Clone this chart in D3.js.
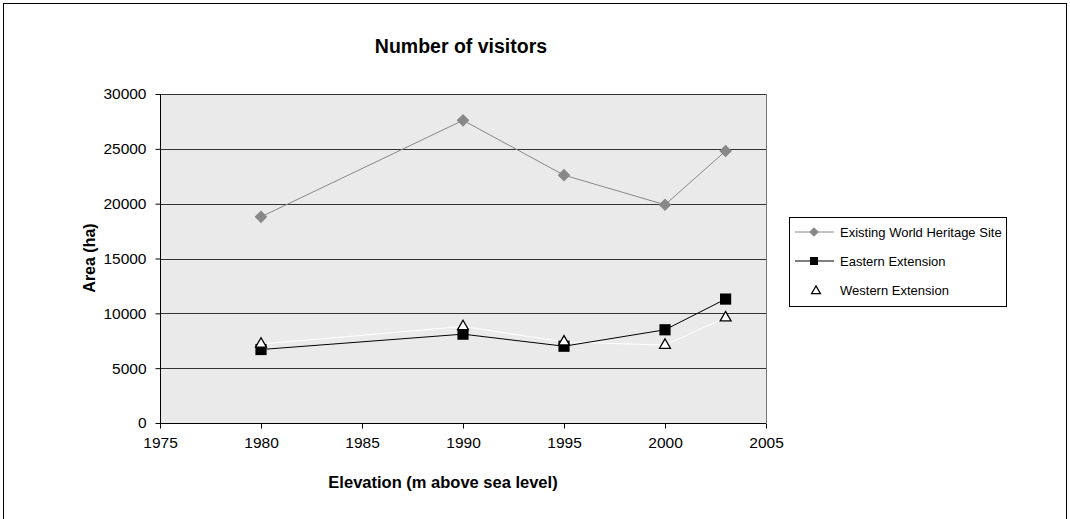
<!DOCTYPE html>
<html><head><meta charset="utf-8">
<script src="https://cdn.jsdelivr.net/npm/d3@7"></script>
<style>body{margin:0;background:#fff;}svg{display:block;font-family:"Liberation Sans",Arial,sans-serif;}</style>
</head><body>
<svg id="c" width="1070" height="519"></svg>
<script>
const years = [1980, 1990, 1995, 2000, 2003];
const existing = [18800, 27600, 22600, 19900, 24800];
const eastern = [6700, 8100, 7000, 8500, 11300];
const western = [7200, 8800, 7400, 7100, 9600];
const xTicks = [1975, 1980, 1985, 1990, 1995, 2000, 2005];
const yTicks = [0, 5000, 10000, 15000, 20000, 25000, 30000];
const seriesNames = ["Existing World Heritage Site", "Eastern Extension", "Western Extension"];

const svg = d3.select("#c");
svg.append("rect").attr("x",3.5).attr("y",3.5).attr("width",1063).attr("height",530)
  .attr("fill","#fff").attr("stroke","#000").attr("stroke-width",1);

const L=160, R=766, T=94, B=423;
const x = d3.scaleLinear().domain([1975,2005]).range([L,R]);
const y = d3.scaleLinear().domain([0,30000]).range([B,T]);
const FONT = "Liberation Sans, Arial, sans-serif";

svg.append("rect").attr("x",L).attr("y",T).attr("width",R-L).attr("height",B-T).attr("fill","#eaeaea");

svg.append("g").selectAll("line").data(yTicks.filter(d=>d>0 && d<30000)).join("line")
  .attr("x1",L).attr("x2",R).attr("y1",d=>Math.round(y(d))+0.5).attr("y2",d=>Math.round(y(d))+0.5)
  .attr("stroke","#333").attr("stroke-width",1);
svg.append("line").attr("x1",L).attr("x2",R).attr("y1",T+0.5).attr("y2",T+0.5).attr("stroke","#333");
svg.append("line").attr("x1",R+0.5).attr("x2",R+0.5).attr("y1",T).attr("y2",B).attr("stroke","#777");

const yAxis = d3.axisLeft(y).tickValues(yTicks).tickSize(5).tickPadding(9).tickFormat(d3.format("d"));
const gy = svg.append("g").attr("transform",`translate(${L+0.5},0)`).call(yAxis);
gy.selectAll("text").attr("font-size",15.5).attr("fill","#000").attr("font-family",FONT);
gy.selectAll("line").attr("stroke","#000");
gy.select(".domain").attr("stroke","#000").attr("d",`M0,${T}V${B}`);

const xAxis = d3.axisBottom(x).tickValues(xTicks).tickSize(5).tickPadding(8).tickFormat(d3.format("d"));
const gx = svg.append("g").attr("transform",`translate(0,${B+0.5})`).call(xAxis);
gx.selectAll("text").attr("font-size",15.5).attr("fill","#000").attr("font-family",FONT);
gx.selectAll("line").attr("stroke","#000");
gx.select(".domain").attr("stroke","#000").attr("d",`M${L},0H${R}`);

const line = vals => d3.line().x((d,i)=>x(years[i])).y(d=>y(d))(vals);
svg.append("path").attr("d",line(western)).attr("fill","none").attr("stroke","#fff").attr("stroke-width",1);
svg.append("path").attr("d",line(existing)).attr("fill","none").attr("stroke","#888").attr("stroke-width",1);
svg.append("path").attr("d",line(eastern)).attr("fill","none").attr("stroke","#000").attr("stroke-width",1);

const diamond = d3.symbol().type(d3.symbolSquare).size(80)();
const square = d3.symbol().type(d3.symbolSquare).size(125)();
const tri = d3.symbol().type(d3.symbolTriangle2).size(85)();

svg.append("g").selectAll("path").data(existing).join("path")
  .attr("transform",(d,i)=>`translate(${x(years[i])},${y(d)}) rotate(45)`).attr("d",diamond)
  .attr("fill","#888");
svg.append("g").selectAll("path").data(eastern).join("path")
  .attr("transform",(d,i)=>`translate(${x(years[i])},${y(d)})`).attr("d",square).attr("fill","#000");
svg.append("g").selectAll("path").data(western).join("path")
  .attr("transform",(d,i)=>`translate(${x(years[i])},${y(d)})`).attr("d",tri)
  .attr("fill","#fff").attr("stroke","#000").attr("stroke-width",1.3);

svg.append("text").attr("x",461).attr("y",53).attr("text-anchor","middle").attr("font-weight","bold").attr("font-size",19.5).text("Number of visitors");
svg.append("text").attr("x",443).attr("y",488).attr("text-anchor","middle").attr("font-weight","bold").attr("font-size",16.5).text("Elevation (m above sea level)");
svg.append("text").attr("transform","translate(95,258) rotate(-90)").attr("text-anchor","middle").attr("font-weight","bold").attr("font-size",16).text("Area (ha)");

svg.append("rect").attr("x",789.5).attr("y",217.5).attr("width",217).attr("height",89).attr("fill","#fff").attr("stroke","#000");
const ly = [232, 261, 290];
const lg = svg.append("g");
lg.append("line").attr("x1",795).attr("x2",834).attr("y1",ly[0]).attr("y2",ly[0]).attr("stroke","#888");
lg.append("path").attr("d",d3.symbol().type(d3.symbolSquare).size(45)()).attr("transform",`translate(814,${ly[0]}) rotate(45)`).attr("fill","#888");
lg.append("line").attr("x1",795).attr("x2",834).attr("y1",ly[1]).attr("y2",ly[1]).attr("stroke","#000");
lg.append("path").attr("d",d3.symbol().type(d3.symbolSquare).size(64)()).attr("transform",`translate(814,${ly[1]})`).attr("fill","#000");
lg.append("path").attr("d",d3.symbol().type(d3.symbolTriangle2).size(55)()).attr("transform",`translate(816,${ly[2]+1})`).attr("fill","#fff").attr("stroke","#000").attr("stroke-width",1.3);
lg.selectAll("text").data(seriesNames).join("text")
  .attr("x",840).attr("y",(d,i)=>ly[i]+4.5).attr("font-size",13).attr("fill","#000").text(d=>d);
</script>
</body></html>
